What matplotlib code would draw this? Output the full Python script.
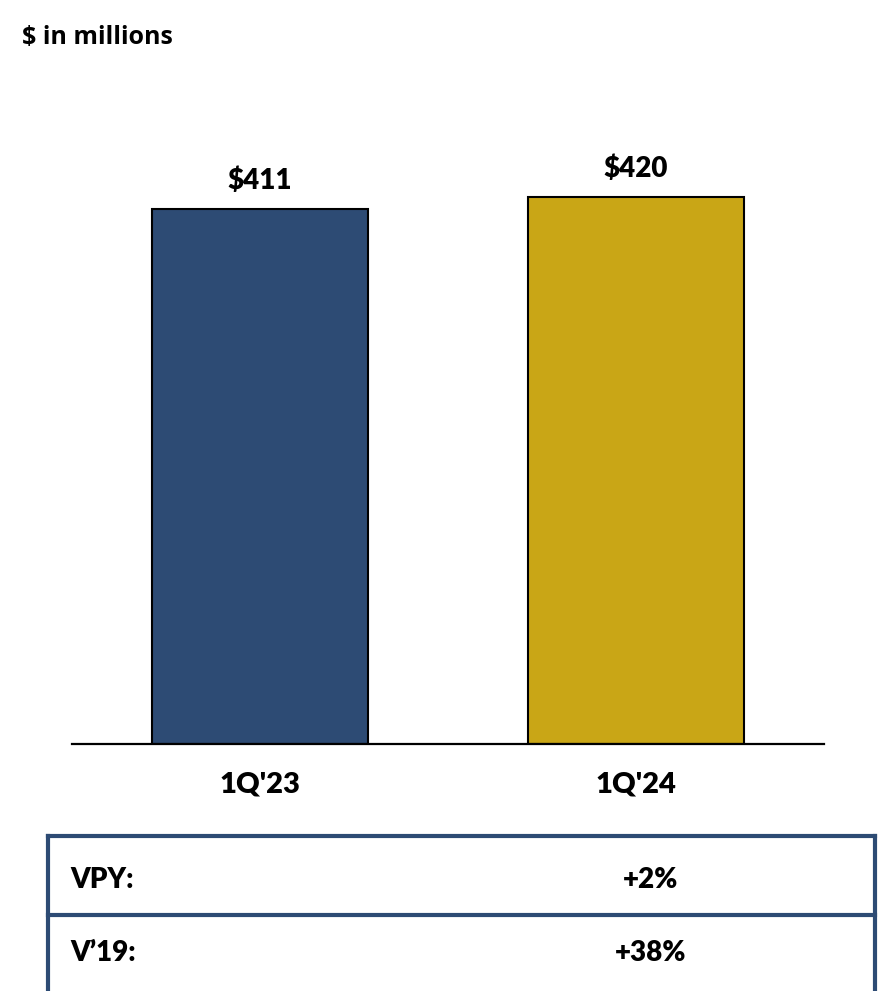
import matplotlib
matplotlib.use("Agg")
import matplotlib.pyplot as plt
from matplotlib.lines import Line2D

# data
categories = ["1Q'23", "1Q'24"]
values = [411, 420]
value_labels = ["$411", "$420"]
bar_colors = ["#2D4B74", "#C9A616"]
unit_note = "$ in millions"
row_labels = ["VPY:", "V\u201919:"]
row_values = ["+2%", "+38%"]

navy = "#2D4B74"
W, H = 885, 991

fig = plt.figure(figsize=(W / 100, H / 100), dpi=100)

# overlay in pixel coordinates for note and table
bg = fig.add_axes([0, 0, 1, 1])
bg.set_xlim(0, W)
bg.set_ylim(H, 0)
bg.axis('off')

# main bar chart
ax = fig.add_axes([72 / W, (H - 744) / H, 752 / W, 644 / H])
x = list(range(len(categories)))
ax.bar(x, values, width=0.577, color=bar_colors, edgecolor="black", linewidth=1.5, zorder=2)
ax.set_xlim(-0.5, 1.5)
ax.set_ylim(0, 494.7)
for xi, v, lab in zip(x, values, value_labels):
    ax.annotate(lab, (xi, v), xytext=(0, 11), textcoords="offset points",
                ha="center", va="bottom", fontsize=20, fontweight="heavy", family="Lato")
for s in ["top", "right", "left"]:
    ax.spines[s].set_visible(False)
ax.spines["bottom"].set_linewidth(1.6)
ax.set_yticks([])
ax.set_xticks(x)
ax.set_xticklabels(categories, fontsize=21, fontweight="heavy", family="Lato")
ax.tick_params(axis="x", length=0, pad=20)

# unit note
bg.text(22, 37, unit_note, ha="left", va="center", fontsize=18, fontweight="bold", family="Open Sans")

# table
left, right, top, mid, bottom = 48, 875, 836, 915, 993
lw = 3
bg.add_line(Line2D([left, right], [top, top], color=navy, lw=lw))
bg.add_line(Line2D([left, right], [mid, mid], color=navy, lw=lw))
bg.add_line(Line2D([left, right], [bottom, bottom], color=navy, lw=lw))
bg.add_line(Line2D([left, left], [top, bottom], color=navy, lw=lw))
bg.add_line(Line2D([right, right], [top, bottom], color=navy, lw=lw))
row_y = [880, 953]
for yy, lab, val in zip(row_y, row_labels, row_values):
    bg.text(70, yy, lab, ha="left", va="center", fontsize=20, fontweight="heavy", family="Lato")
    bg.text(651, yy, val, ha="center", va="center", fontsize=20, fontweight="heavy", family="Lato")

fig.savefig("out.png", dpi=100)
